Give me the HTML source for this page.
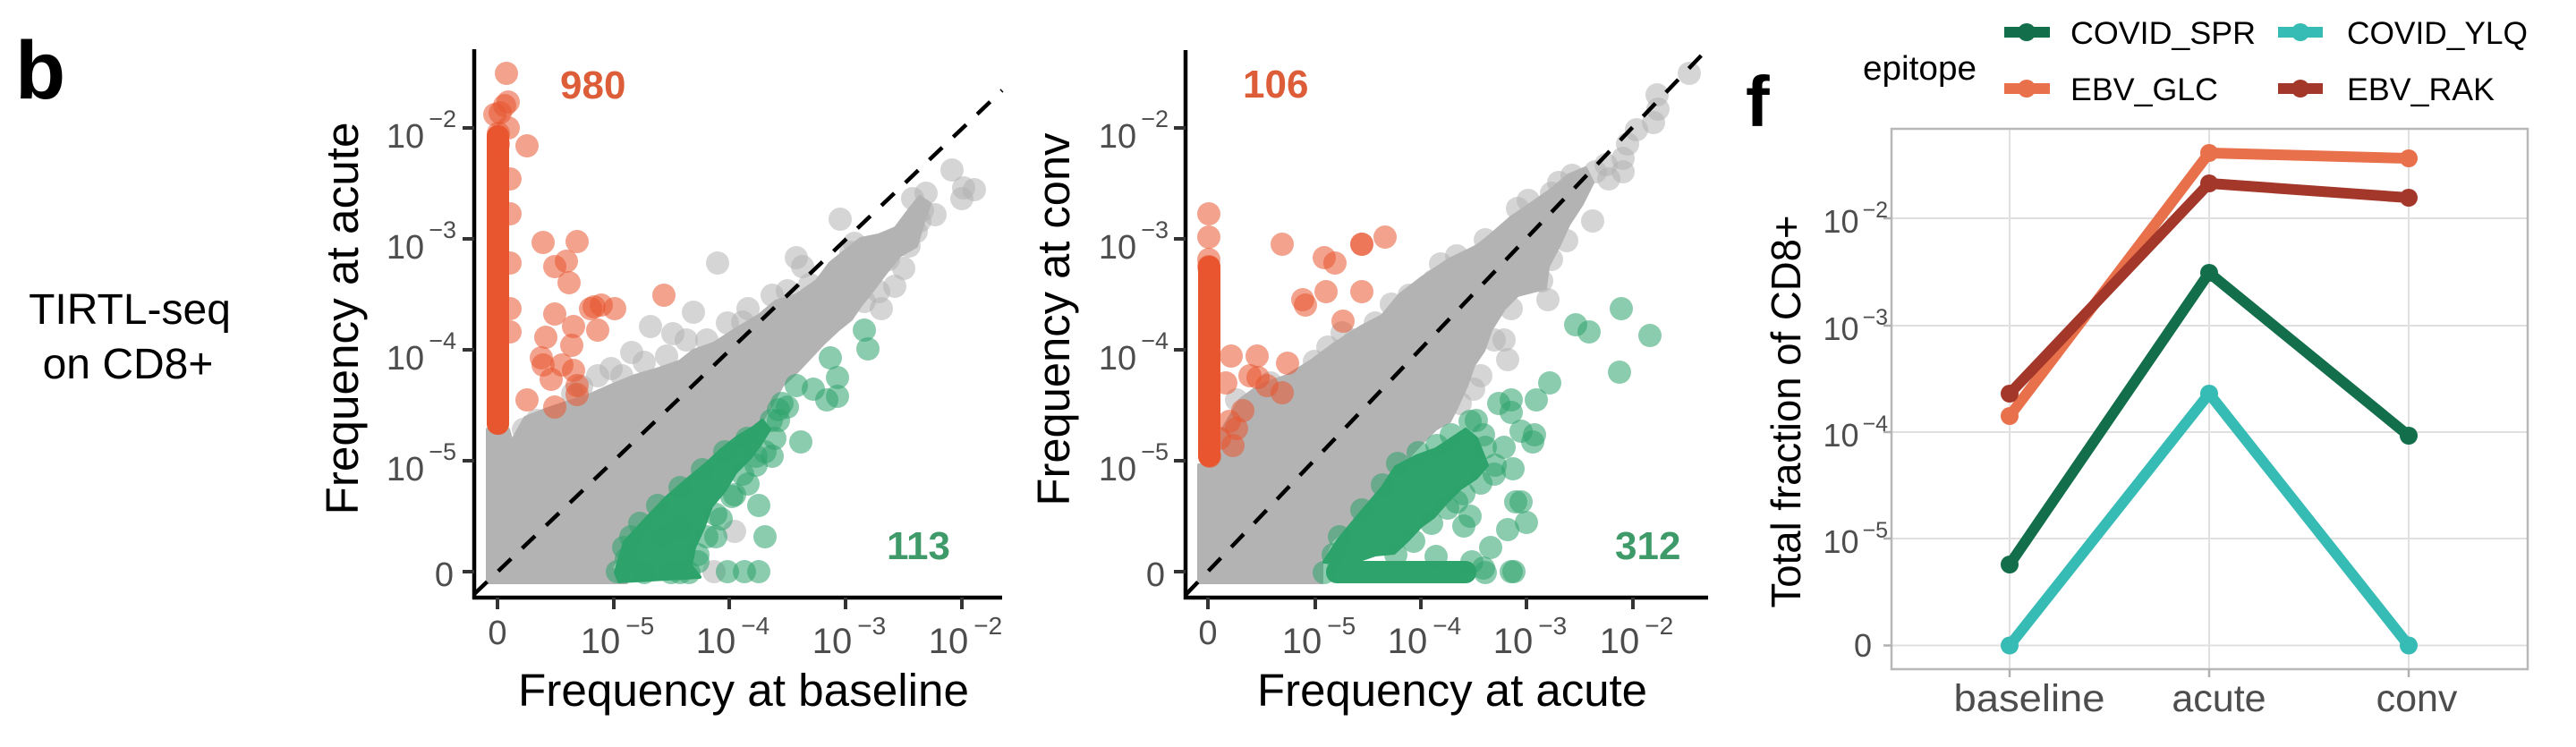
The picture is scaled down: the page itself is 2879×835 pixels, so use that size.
<!DOCTYPE html>
<html>
<head>
<meta charset="utf-8">
<style>
html,body{margin:0;padding:0;background:#fff;}
svg{display:block;}
</style>
</head>
<body>
<svg width="2879" height="835" viewBox="0 0 2879 835" xmlns="http://www.w3.org/2000/svg" font-family="'Liberation Sans', Arial, sans-serif">
<rect x="0" y="0" width="2879" height="835" fill="#ffffff"/>
<defs>
<clipPath id="c1"><rect x="532" y="55" width="590" height="611"/></clipPath>
<clipPath id="c2"><rect x="1327" y="55" width="584" height="611"/></clipPath>
</defs>

<!-- Left labels -->
<text x="17" y="110" font-size="92" font-weight="bold" fill="#000">b</text>
<text x="145" y="362" font-size="48" text-anchor="middle" fill="#000">TIRTL-seq</text>
<text x="143" y="423" font-size="48" text-anchor="middle" fill="#000">on CD8+</text>

<!-- ================= PANEL 1 ================= -->
<g clip-path="url(#c1)">
  <!-- gray dense -->
  <polygon fill="#b3b3b3" stroke="#b3b3b3" stroke-width="4" stroke-linejoin="round"
   points="545,651 545,480 568,480 572,494 587,467 607,459 630,451 656,443 683,431 710,420 737,412 760,404 775,392 798,384 821,369 848,353 867,337 890,330 913,314 928,294 943,282 962,267 982,263 1001,255 1016,235 1028,220 1039,228 1031,251 1024,275 1005,286 989,306 974,326 962,341 951,357 936,369 920,384 905,400 890,416 874,431 863,451 851,471 836,486 821,506 806,526 790,541 775,553 760,565 737,577 714,592 695,612 683,635 700,651"/>
  <g fill="#b3b3b3" fill-opacity="0.55">
    <circle cx="1064" cy="190" r="13"/><circle cx="1077" cy="210" r="13"/><circle cx="1089" cy="212" r="13"/><circle cx="1075" cy="222" r="13"/>
    <circle cx="1035" cy="216" r="13"/><circle cx="1020" cy="222" r="13"/><circle cx="1031" cy="235" r="13"/><circle cx="1028" cy="247" r="13"/>
    <circle cx="1024" cy="259" r="13"/><circle cx="1016" cy="275" r="13"/><circle cx="939" cy="245" r="13"/><circle cx="951" cy="282" r="13"/>
    <circle cx="890" cy="288" r="13"/><circle cx="897" cy="298" r="13"/><circle cx="802" cy="294" r="13"/><circle cx="775" cy="349" r="13"/>
    <circle cx="727" cy="365" r="13"/><circle cx="752" cy="373" r="13"/><circle cx="767" cy="380" r="13"/><circle cx="813" cy="361" r="13"/>
    <circle cx="836" cy="345" r="13"/><circle cx="863" cy="330" r="13"/><circle cx="706" cy="394" r="13"/><circle cx="683" cy="412" r="13"/>
    <circle cx="668" cy="420" r="13"/><circle cx="966" cy="337" r="13"/><circle cx="982" cy="326" r="13"/><circle cx="993" cy="290" r="13"/>
    <circle cx="821" cy="594" r="13"/><circle cx="798" cy="639" r="13"/><circle cx="1010" cy="300" r="13"/><circle cx="1000" cy="320" r="13"/>
    <circle cx="940" cy="350" r="13"/><circle cx="920" cy="360" r="13"/><circle cx="585" cy="480" r="13"/><circle cx="600" cy="470" r="13"/>
    <circle cx="640" cy="440" r="13"/><circle cx="720" cy="405" r="13"/><circle cx="790" cy="380" r="13"/><circle cx="880" cy="325" r="13"/>
    <circle cx="650" cy="432" r="13"/><circle cx="695" cy="420" r="13"/><circle cx="745" cy="398" r="13"/><circle cx="830" cy="360" r="13"/>
    <circle cx="905" cy="318" r="13"/><circle cx="955" cy="272" r="13"/><circle cx="1045" cy="240" r="13"/><circle cx="985" cy="345" r="13"/>
  </g>
  <!-- green core -->
  <polygon fill="#2ea36c" stroke="#2ea36c" stroke-width="4" stroke-linejoin="round"
   points="688,640 698,606 722,580 745,556 768,536 790,518 806,503 825,488 842,478 852,470 860,480 850,496 838,512 822,528 810,548 795,566 786,590 776,612 772,632 782,645 692,650"/>
  <g fill="#2ea36c" fill-opacity="0.55">
    <circle cx="966" cy="369" r="13"/><circle cx="970" cy="390" r="13"/><circle cx="928" cy="400" r="13"/><circle cx="936" cy="422" r="13"/>
    <circle cx="936" cy="443" r="13"/><circle cx="924" cy="447" r="13"/><circle cx="909" cy="435" r="13"/><circle cx="890" cy="431" r="13"/>
    <circle cx="895" cy="494" r="13"/><circle cx="848" cy="565" r="13"/><circle cx="855" cy="600" r="13"/><circle cx="848" cy="639" r="13"/>
    <circle cx="832" cy="639" r="13"/><circle cx="813" cy="639" r="13"/><circle cx="821" cy="553" r="13"/><circle cx="806" cy="580" r="13"/>
    <circle cx="863" cy="510" r="13"/><circle cx="836" cy="541" r="13"/><circle cx="800" cy="600" r="13"/><circle cx="870" cy="470" r="13"/>
    <circle cx="880" cy="455" r="13"/><circle cx="700" cy="625" r="13"/><circle cx="690" cy="639" r="13"/><circle cx="760" cy="640" r="13"/>
    <circle cx="780" cy="620" r="13"/><circle cx="845" cy="510" r="13"/>
    <circle cx="870" cy="458" r="13"/><circle cx="874" cy="451" r="13"/><circle cx="862" cy="470" r="13"/><circle cx="866" cy="490" r="13"/>
    <circle cx="855" cy="505" r="13"/><circle cx="845" cy="520" r="13"/><circle cx="830" cy="530" r="13"/><circle cx="818" cy="555" r="13"/>
    <circle cx="800" cy="575" r="13"/><circle cx="790" cy="600" r="13"/><circle cx="780" cy="628" r="13"/><circle cx="705" cy="600" r="13"/>
    <circle cx="715" cy="585" r="13"/><circle cx="735" cy="565" r="13"/><circle cx="760" cy="545" r="13"/><circle cx="785" cy="525" r="13"/>
    <circle cx="810" cy="505" r="13"/><circle cx="835" cy="490" r="13"/><circle cx="740" cy="600" r="13"/><circle cx="760" cy="590" r="13"/>
    <circle cx="720" cy="640" r="13"/><circle cx="750" cy="640" r="13"/><circle cx="770" cy="640" r="13"/><circle cx="697" cy="612" r="13"/>
  </g>
  <!-- red column -->
  <rect x="544" y="140" width="25" height="346" rx="12" fill="#e8562f"/>
  <g fill="#e8562f" fill-opacity="0.55">
    <circle cx="566" cy="82" r="13"/><circle cx="589" cy="163" r="13"/><circle cx="607" cy="271" r="13"/><circle cx="645" cy="270" r="13"/>
    <circle cx="620" cy="298" r="13"/><circle cx="633" cy="292" r="13"/><circle cx="636" cy="316" r="13"/><circle cx="742" cy="330" r="13"/>
    <circle cx="664" cy="343" r="13"/><circle cx="672" cy="341" r="13"/><circle cx="687" cy="345" r="13"/><circle cx="660" cy="345" r="13"/>
    <circle cx="620" cy="351" r="13"/><circle cx="668" cy="369" r="13"/><circle cx="641" cy="365" r="13"/><circle cx="610" cy="377" r="13"/>
    <circle cx="639" cy="386" r="13"/><circle cx="605" cy="400" r="13"/><circle cx="628" cy="408" r="13"/><circle cx="641" cy="414" r="13"/>
    <circle cx="607" cy="408" r="13"/><circle cx="616" cy="424" r="13"/><circle cx="645" cy="431" r="13"/><circle cx="645" cy="441" r="13"/>
    <circle cx="589" cy="447" r="13"/><circle cx="620" cy="455" r="13"/>
    <circle cx="564" cy="118" r="13"/><circle cx="568" cy="114" r="13"/><circle cx="559" cy="126" r="13"/><circle cx="553" cy="128" r="13"/>
    <circle cx="568" cy="143" r="13"/><circle cx="557" cy="149" r="13"/><circle cx="557" cy="161" r="13"/>
    <circle cx="570" cy="239" r="13"/><circle cx="570" cy="294" r="13"/><circle cx="570" cy="345" r="13"/><circle cx="570" cy="371" r="13"/><circle cx="570" cy="200" r="13"/>
  </g>
  <line x1="530" y1="664" x2="1120" y2="101" stroke="#000" stroke-width="4.5" stroke-dasharray="20 17"/>
</g>
<!-- axes panel 1 -->
<line x1="530" y1="55" x2="530" y2="670" stroke="#000" stroke-width="4.5"/>
<line x1="528" y1="668" x2="1120" y2="668" stroke="#000" stroke-width="4.5"/>
<g stroke="#333" stroke-width="4">
  <line x1="517" y1="143" x2="530" y2="143"/><line x1="517" y1="267" x2="530" y2="267"/><line x1="517" y1="391" x2="530" y2="391"/><line x1="517" y1="515" x2="530" y2="515"/><line x1="517" y1="639" x2="530" y2="639"/>
  <line x1="556" y1="668" x2="556" y2="681"/><line x1="686" y1="668" x2="686" y2="681"/><line x1="815" y1="668" x2="815" y2="681"/><line x1="945" y1="668" x2="945" y2="681"/><line x1="1075" y1="668" x2="1075" y2="681"/>
</g>
<g fill="#4d4d4d" font-size="38">
  <text x="510" y="165" text-anchor="end">10<tspan font-size="27" dy="-23" dx="5">−2</tspan></text>
  <text x="510" y="289" text-anchor="end">10<tspan font-size="27" dy="-23" dx="5">−3</tspan></text>
  <text x="510" y="413" text-anchor="end">10<tspan font-size="27" dy="-23" dx="5">−4</tspan></text>
  <text x="510" y="537" text-anchor="end">10<tspan font-size="27" dy="-23" dx="5">−5</tspan></text>
  <text x="507" y="655" text-anchor="end">0</text>
  <text x="556" y="720" text-anchor="middle">0</text>
  <text x="690" y="730" text-anchor="middle" font-size="40">10<tspan font-size="28" dy="-21" dx="6">−5</tspan></text>
  <text x="819" y="730" text-anchor="middle" font-size="40">10<tspan font-size="28" dy="-21" dx="6">−4</tspan></text>
  <text x="949" y="730" text-anchor="middle" font-size="40">10<tspan font-size="28" dy="-21" dx="6">−3</tspan></text>
  <text x="1079" y="730" text-anchor="middle" font-size="40">10<tspan font-size="28" dy="-21" dx="6">−2</tspan></text>
</g>
<text x="831" y="789" font-size="51" text-anchor="middle" textLength="504" lengthAdjust="spacingAndGlyphs" fill="#000">Frequency at baseline</text>
<text transform="translate(400,356) rotate(-90)" font-size="51" text-anchor="middle" textLength="439" lengthAdjust="spacingAndGlyphs" fill="#000">Frequency at acute</text>
<text x="626" y="110" font-size="44" font-weight="bold" fill="#dc5d38">980</text>
<text x="991" y="625" font-size="44" font-weight="bold" fill="#3e9a68">113</text>

<!-- ================= PANEL 2 ================= -->
<g clip-path="url(#c2)">
  <polygon fill="#b3b3b3" stroke="#b3b3b3" stroke-width="4" stroke-linejoin="round"
   points="1340,651 1340,520 1363,520 1363,486 1386,447 1408,431 1439,420 1465,404 1492,384 1522,365 1545,353 1564,330 1590,310 1620,290 1651,275 1666,263 1689,243 1711,228 1734,212 1753,196 1772,188 1780,204 1768,228 1753,251 1742,275 1730,298 1727,322 1696,330 1681,345 1666,369 1658,392 1647,408 1639,431 1628,455 1620,471 1605,479 1590,494 1571,514 1552,537 1530,561 1511,584 1488,604 1477,628 1477,651"/>
  <g fill="#b3b3b3" fill-opacity="0.55">
    <circle cx="1888" cy="82" r="13"/><circle cx="1852" cy="106" r="13"/><circle cx="1853" cy="122" r="13"/><circle cx="1848" cy="137" r="13"/>
    <circle cx="1829" cy="145" r="13"/><circle cx="1819" cy="161" r="13"/><circle cx="1814" cy="177" r="13"/><circle cx="1795" cy="184" r="13"/>
    <circle cx="1783" cy="192" r="13"/><circle cx="1814" cy="192" r="13"/><circle cx="1798" cy="200" r="13"/><circle cx="1757" cy="196" r="13"/>
    <circle cx="1742" cy="204" r="13"/><circle cx="1734" cy="216" r="13"/><circle cx="1708" cy="224" r="13"/><circle cx="1696" cy="233" r="13"/>
    <circle cx="1780" cy="247" r="13"/><circle cx="1751" cy="269" r="13"/><circle cx="1734" cy="290" r="13"/><circle cx="1730" cy="335" r="13"/>
    <circle cx="1723" cy="314" r="13"/><circle cx="1689" cy="345" r="13"/><circle cx="1681" cy="380" r="13"/><circle cx="1685" cy="402" r="13"/>
    <circle cx="1647" cy="435" r="13"/><circle cx="1632" cy="451" r="13"/><circle cx="1628" cy="286" r="13"/><circle cx="1602" cy="314" r="13"/>
    <circle cx="1575" cy="330" r="13"/><circle cx="1537" cy="361" r="13"/><circle cx="1514" cy="380" r="13"/><circle cx="1484" cy="388" r="13"/>
    <circle cx="1469" cy="404" r="13"/><circle cx="1382" cy="447" r="13"/><circle cx="1710" cy="260" r="13"/><circle cx="1700" cy="300" r="13"/>
    <circle cx="1420" cy="428" r="13"/><circle cx="1500" cy="372" r="13"/><circle cx="1555" cy="340" r="13"/><circle cx="1610" cy="295" r="13"/>
    <circle cx="1660" cy="268" r="13"/><circle cx="1655" cy="420" r="13"/><circle cx="1670" cy="380" r="13"/>
  </g>
  <polygon fill="#2ea36c" stroke="#2ea36c" stroke-width="4" stroke-linejoin="round"
   points="1480,628 1497,602 1522,572 1545,545 1560,522 1583,510 1605,502 1620,492 1638,480 1650,490 1662,520 1650,534 1632,546 1616,562 1602,578 1588,588 1573,604 1558,618 1537,620 1514,628"/>
  <rect x="1482" y="627" width="168" height="25" rx="12" fill="#2ea36c"/>
  <g fill="#2ea36c" fill-opacity="0.55">
    <circle cx="1812" cy="345" r="13"/><circle cx="1761" cy="363" r="13"/><circle cx="1776" cy="371" r="13"/><circle cx="1844" cy="375" r="13"/>
    <circle cx="1810" cy="416" r="13"/><circle cx="1732" cy="428" r="13"/><circle cx="1717" cy="447" r="13"/><circle cx="1689" cy="447" r="13"/>
    <circle cx="1675" cy="451" r="13"/><circle cx="1689" cy="461" r="13"/><circle cx="1715" cy="486" r="13"/><circle cx="1713" cy="494" r="13"/>
    <circle cx="1700" cy="482" r="13"/><circle cx="1681" cy="500" r="13"/><circle cx="1691" cy="524" r="13"/><circle cx="1670" cy="530" r="13"/>
    <circle cx="1694" cy="561" r="13"/><circle cx="1700" cy="561" r="13"/><circle cx="1706" cy="584" r="13"/><circle cx="1685" cy="592" r="13"/>
    <circle cx="1666" cy="612" r="13"/><circle cx="1636" cy="588" r="13"/><circle cx="1643" cy="577" r="13"/><circle cx="1628" cy="561" r="13"/>
    <circle cx="1692" cy="639" r="13"/><circle cx="1689" cy="639" r="13"/><circle cx="1658" cy="635" r="13"/><circle cx="1605" cy="622" r="13"/>
    <circle cx="1660" cy="500" r="13"/><circle cx="1650" cy="470" r="13"/><circle cx="1480" cy="640" r="13"/><circle cx="1490" cy="620" r="13"/>
    <circle cx="1643" cy="471" r="13"/><circle cx="1658" cy="486" r="13"/><circle cx="1671" cy="520" r="13"/><circle cx="1655" cy="540" r="13"/>
    <circle cx="1636" cy="552" r="13"/><circle cx="1618" cy="568" r="13"/><circle cx="1600" cy="585" r="13"/><circle cx="1580" cy="605" r="13"/>
    <circle cx="1560" cy="620" r="13"/><circle cx="1497" cy="600" r="13"/><circle cx="1522" cy="570" r="13"/><circle cx="1545" cy="542" r="13"/>
    <circle cx="1562" cy="518" r="13"/><circle cx="1585" cy="506" r="13"/><circle cx="1606" cy="498" r="13"/><circle cx="1622" cy="486" r="13"/>
    <circle cx="1660" cy="640" r="13"/><circle cx="1645" cy="628" r="13"/>
  </g>
  <rect x="1339" y="286" width="25" height="236" rx="12" fill="#e8562f"/>
  <g fill="#e8562f" fill-opacity="0.55">
    <circle cx="1351" cy="239" r="13"/><circle cx="1351" cy="265" r="13"/><circle cx="1433" cy="273" r="13"/><circle cx="1480" cy="288" r="13"/>
    <circle cx="1492" cy="294" r="13"/><circle cx="1522" cy="273" r="13"/><circle cx="1522" cy="273" r="13"/><circle cx="1548" cy="265" r="13"/>
    <circle cx="1482" cy="326" r="13"/><circle cx="1522" cy="326" r="13"/><circle cx="1456" cy="335" r="13"/><circle cx="1459" cy="341" r="13"/>
    <circle cx="1501" cy="359" r="13"/><circle cx="1376" cy="398" r="13"/><circle cx="1405" cy="398" r="13"/><circle cx="1439" cy="406" r="13"/>
    <circle cx="1397" cy="420" r="13"/><circle cx="1406" cy="422" r="13"/><circle cx="1416" cy="431" r="13"/><circle cx="1433" cy="439" r="13"/>
    <circle cx="1370" cy="428" r="13"/><circle cx="1389" cy="459" r="13"/><circle cx="1374" cy="471" r="13"/><circle cx="1382" cy="479" r="13"/>
    <circle cx="1363" cy="490" r="13"/><circle cx="1378" cy="498" r="13"/><circle cx="1352" cy="510" r="13"/><circle cx="1351" cy="290" r="13"/>
    <circle cx="1351" cy="298" r="13"/>
  </g>
  <line x1="1325" y1="665" x2="1910" y2="53" stroke="#000" stroke-width="4.5" stroke-dasharray="20 17"/>
</g>
<line x1="1325" y1="56" x2="1325" y2="670" stroke="#000" stroke-width="4.5"/>
<line x1="1323" y1="668" x2="1909" y2="668" stroke="#000" stroke-width="4.5"/>
<g stroke="#333" stroke-width="4">
  <line x1="1312" y1="143" x2="1325" y2="143"/><line x1="1312" y1="267" x2="1325" y2="267"/><line x1="1312" y1="391" x2="1325" y2="391"/><line x1="1312" y1="515" x2="1325" y2="515"/><line x1="1312" y1="639" x2="1325" y2="639"/>
  <line x1="1350" y1="668" x2="1350" y2="681"/><line x1="1470" y1="668" x2="1470" y2="681"/><line x1="1588" y1="668" x2="1588" y2="681"/><line x1="1706" y1="668" x2="1706" y2="681"/><line x1="1825" y1="668" x2="1825" y2="681"/>
</g>
<g fill="#4d4d4d" font-size="38">
  <text x="1306" y="165" text-anchor="end">10<tspan font-size="27" dy="-23" dx="5">−2</tspan></text>
  <text x="1306" y="289" text-anchor="end">10<tspan font-size="27" dy="-23" dx="5">−3</tspan></text>
  <text x="1306" y="413" text-anchor="end">10<tspan font-size="27" dy="-23" dx="5">−4</tspan></text>
  <text x="1306" y="537" text-anchor="end">10<tspan font-size="27" dy="-23" dx="5">−5</tspan></text>
  <text x="1302" y="655" text-anchor="end">0</text>
  <text x="1350" y="720" text-anchor="middle">0</text>
  <text x="1474" y="730" text-anchor="middle" font-size="40">10<tspan font-size="28" dy="-21" dx="6">−5</tspan></text>
  <text x="1592" y="730" text-anchor="middle" font-size="40">10<tspan font-size="28" dy="-21" dx="6">−4</tspan></text>
  <text x="1710" y="730" text-anchor="middle" font-size="40">10<tspan font-size="28" dy="-21" dx="6">−3</tspan></text>
  <text x="1829" y="730" text-anchor="middle" font-size="40">10<tspan font-size="28" dy="-21" dx="6">−2</tspan></text>
</g>
<text x="1623" y="789" font-size="51" text-anchor="middle" textLength="436" lengthAdjust="spacingAndGlyphs" fill="#000">Frequency at acute</text>
<text transform="translate(1195,357) rotate(-90)" font-size="51" text-anchor="middle" textLength="417" lengthAdjust="spacingAndGlyphs" fill="#000">Frequency at conv</text>
<text x="1389" y="109" font-size="44" font-weight="bold" fill="#dc5d38">106</text>
<text x="1805" y="625" font-size="44" font-weight="bold" fill="#3e9a68">312</text>

<!-- ================= PANEL F ================= -->
<text x="1951" y="141" font-size="80" font-weight="bold" fill="#000">f</text>
<!-- legend -->
<text x="2082" y="89" font-size="38" fill="#000" textLength="127" lengthAdjust="spacingAndGlyphs">epitope</text>
<g stroke-width="12">
  <line x1="2240" y1="36" x2="2291" y2="36" stroke="#136e4b"/>
  <line x1="2546" y1="36" x2="2596" y2="36" stroke="#36bbb5"/>
  <line x1="2240" y1="99" x2="2291" y2="99" stroke="#e8704a"/>
  <line x1="2546" y1="99" x2="2596" y2="99" stroke="#a3372a"/>
</g>
<circle cx="2265" cy="36" r="10" fill="#136e4b"/>
<circle cx="2571" cy="36" r="10" fill="#36bbb5"/>
<circle cx="2265" cy="99" r="10" fill="#e8704a"/>
<circle cx="2571" cy="99" r="10" fill="#a3372a"/>
<g font-size="35" fill="#000">
  <text x="2314" y="49" textLength="207" lengthAdjust="spacingAndGlyphs">COVID_SPR</text>
  <text x="2623" y="49" textLength="202" lengthAdjust="spacingAndGlyphs">COVID_YLQ</text>
  <text x="2314" y="112" textLength="165" lengthAdjust="spacingAndGlyphs">EBV_GLC</text>
  <text x="2623" y="112" textLength="165" lengthAdjust="spacingAndGlyphs">EBV_RAK</text>
</g>
<!-- grid -->
<g stroke="#e0e0e0" stroke-width="2">
  <line x1="2115" y1="244" x2="2825" y2="244"/>
  <line x1="2115" y1="364" x2="2825" y2="364"/>
  <line x1="2115" y1="483" x2="2825" y2="483"/>
  <line x1="2115" y1="602" x2="2825" y2="602"/>
  <line x1="2115" y1="721.5" x2="2825" y2="721.5"/>
  <line x1="2246" y1="145" x2="2246" y2="748"/>
  <line x1="2469" y1="145" x2="2469" y2="748"/>
  <line x1="2692" y1="145" x2="2692" y2="748"/>
</g>
<rect x="2114" y="144" width="711" height="604" fill="none" stroke="#b8b8b8" stroke-width="2.5"/>
<g stroke="#b0b0b0" stroke-width="2.5">
  <line x1="2105" y1="244" x2="2114" y2="244"/><line x1="2105" y1="364" x2="2114" y2="364"/><line x1="2105" y1="483" x2="2114" y2="483"/><line x1="2105" y1="602" x2="2114" y2="602"/><line x1="2105" y1="721.5" x2="2114" y2="721.5"/>
  <line x1="2246" y1="748" x2="2246" y2="757"/><line x1="2469" y1="748" x2="2469" y2="757"/><line x1="2692" y1="748" x2="2692" y2="757"/>
</g>
<g fill="#4d4d4d" font-size="36">
  <text x="2110" y="260" text-anchor="end">10<tspan font-size="25" dy="-17" dx="4">−2</tspan></text>
  <text x="2110" y="380" text-anchor="end">10<tspan font-size="25" dy="-17" dx="4">−3</tspan></text>
  <text x="2110" y="499" text-anchor="end">10<tspan font-size="25" dy="-17" dx="4">−4</tspan></text>
  <text x="2110" y="618" text-anchor="end">10<tspan font-size="25" dy="-17" dx="4">−5</tspan></text>
  <text x="2092" y="734" text-anchor="end">0</text>
</g>
<g fill="#4d4d4d" font-size="43">
  <text x="2268" y="795" text-anchor="middle" textLength="169" lengthAdjust="spacingAndGlyphs">baseline</text>
  <text x="2480" y="795" text-anchor="middle">acute</text>
  <text x="2701" y="795" text-anchor="middle">conv</text>
</g>
<text transform="translate(2012,460) rotate(-90)" font-size="46" text-anchor="middle" textLength="439" lengthAdjust="spacingAndGlyphs" fill="#000">Total fraction of CD8+</text>
<!-- lines -->
<g fill="none" stroke-width="12" stroke-linejoin="round" stroke-linecap="round">
  <polyline points="2246,631 2469,305 2692,487" stroke="#136e4b"/>
  <polyline points="2246,721.5 2469,440 2692,721.5" stroke="#36bbb5"/>
  <polyline points="2246,465 2469,171 2692,177" stroke="#e8704a"/>
  <polyline points="2246,440 2469,205 2692,221" stroke="#a3372a"/>
</g>
<g>
  <circle cx="2246" cy="631" r="10" fill="#136e4b"/><circle cx="2469" cy="305" r="10" fill="#136e4b"/><circle cx="2692" cy="487" r="10" fill="#136e4b"/>
  <circle cx="2246" cy="721.5" r="10" fill="#36bbb5"/><circle cx="2469" cy="440" r="10" fill="#36bbb5"/><circle cx="2692" cy="721.5" r="10" fill="#36bbb5"/>
  <circle cx="2246" cy="465" r="10" fill="#e8704a"/><circle cx="2469" cy="171" r="10" fill="#e8704a"/><circle cx="2692" cy="177" r="10" fill="#e8704a"/>
  <circle cx="2246" cy="440" r="10" fill="#a3372a"/><circle cx="2469" cy="205" r="10" fill="#a3372a"/><circle cx="2692" cy="221" r="10" fill="#a3372a"/>
</g>
</svg>
</body>
</html>
